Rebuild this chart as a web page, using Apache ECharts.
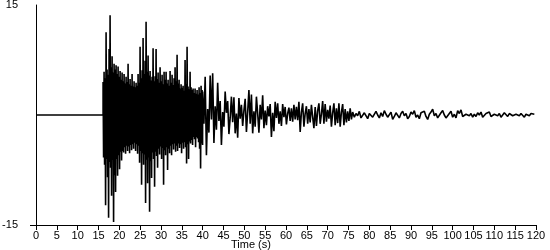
<!DOCTYPE html>
<html>
<head>
<meta charset="utf-8">
<script src="https://cdn.jsdelivr.net/npm/echarts@6/dist/echarts.min.js"></script>
<style>html,body{margin:0;padding:0;background:#fff}#c{width:550px;height:250px}</style>
</head>
<body>
<div id="c"></div>
<script>
// ---- data ----
const startTime = 0;
const onsetTime = 16.1;          // s, quiet until here
const endTime = 120;
const denseStep = 0.12;           // s between samples in the strong-motion part
const denseValues = [
 4.5,-5.8, 5.9,-6.8, 5.0,-12.3, 11.3,-6.0, 6.2,-8.5, 5.5,-14.0, 9.0,-6.4, 13.6,-7.2, 6.5,-11.0, 8.0,-6.1,
 5.8,-14.6, 7.0,-8.2, 6.2,-10.5, 6.8,-6.0, 5.6,-8.3, 6.6,-5.5, 5.2,-7.4, 6.0,-5.0, 4.8,-6.2, 5.8,-4.9,
 4.6,-5.1, 5.6,-4.4, 4.3,-5.3, 5.2,-4.2, 4.5,-4.9, 7.0,-4.3, 4.2,-5.2, 4.9,-4.1, 4.0,-4.8, 5.6,-4.0,
 3.9,-4.6, 4.6,-3.8, 3.8,-4.9, 4.4,-4.0, 4.0,-5.3, 5.6,-4.2, 4.4,-6.5, 9.3,-4.9, 5.0,-9.5, 6.1,-5.2,
 10.5,-6.8, 5.6,-5.4, 7.4,-12.0, 12.7,-6.1, 5.9,-9.3, 8.1,-5.8, 5.4,-13.2, 6.0,-6.3, 4.7,-8.6, 5.2,-5.1,
 9.1,-6.0, 4.6,-9.8, 5.3,-5.0, 9.0,-5.6, 4.9,-7.2, 5.8,-4.6, 4.4,-5.4, 6.5,-4.3, 4.6,-6.0, 5.5,-4.5,
 4.2,-9.5, 5.9,-4.8, 4.8,-5.5, 5.9,-4.4, 4.3,-7.5, 4.8,-4.6, 4.0,-5.2, 6.0,-4.2, 4.4,-5.5, 5.5,-4.0,
 4.1,-4.7, 5.0,-3.9, 6.5,-5.0, 4.6,-4.2, 8.2,-4.9, 4.3,-3.9, 4.8,-4.5, 3.6,-4.0, 4.2,-5.2, 3.7,-3.8,
 4.0,-4.6, 3.3,-3.7, 7.5,-4.4, 4.2,-6.6, 9.3,-4.0, 3.9,-6.0, 3.5,-3.6, 5.9,-3.9, 3.8,-3.4, 3.4,-4.1,
 3.6,-3.0, 3.0,-3.3, 3.6,-4.4, 2.9,-3.0, 3.4,-3.2, 2.8,-3.7, 3.8,-4.6, 3.0,-7.3, 4.0,-3.9, 3.4,-4.1
];
const midStart = 40.0;
const midStep = 0.3;
const midValues = [
 3.2,-1.2,5.2,-5.5,0.8,-2.4,5.4,-0.6,5.7,-3.8,
 1.2,-2.0,4.4,-0.8,1.9,-4.1,0.4,-1.6,3.2,0.3,
 1.9,-2.6,-0.4,2.5,-1.0,2.4,-2.5,0.2,-3.1,2.3,
 -0.5,1.4,-1.5,0.6,2.2,-2.3,0.4,3.4,-1.2,2.8,
 -2.5,0.5,-1.6,2.5,0.2,-2.4,1.4,-0.6,2.7,-1.8,
 0.6,-1.4,1.2,-0.2,1.5,-3.0,0.3,-2.2,1.8,-0.4,
 1.6,-1.2,0.5,-1.5,1.5,-0.3,1.1,-1.3,0.2,1.0,
 -0.8,0.9,-0.9,1.4,-0.6,1.1,-0.7,1.8,-2.3,0.4,
 1.6,-1.6,0.2,1.2,-1.2,0.8,-1.0,1.4,-0.3,-1.8,
 1.1,-1.5,0.6,1.6,-1.2,0.1,1.9,-1.2,1.5,-0.9,
 0.7,-0.5,1.3,-1.6,0.3,1.6,-1.4,0.9,-1.1,1.6,
 -1.6,0.4,1.5,-1.4,0.8,-1.0,0.5,-0.8,0.9,-0.6
];
const tailStart = 76.0;
const tailStep = 0.4;
const tailValues = [
 0.4,-0.3,0.2,-0.1,0.5,-0.4,-0.2,0.3,0.1,-0.5,0.2,0.4,
 -0.3,-0.1,0.5,0.0,-0.4,0.3,-0.2,0.6,0.1,-0.3,-0.1,0.4,
 -0.6,-0.2,0.3,0.1,-0.4,0.2,0.5,-0.1,0.2,-0.5,-0.2,0.4,
 0.1,0.6,-0.3,0.0,-0.5,0.3,0.2,0.5,-0.2,-0.6,0.1,0.4,
 0.8,-0.1,0.2,-0.4,-0.2,0.3,0.6,0.0,-0.4,-0.1,0.2,0.5,
 -0.3,0.1,-0.4,0.6,0.2,0.7,-0.2,-0.4,0.1,0.3,-0.1,0.2,
 -0.3,0.1,-0.2,0.3,0.0,0.4,-0.3,-0.1,0.2,0.1,0.4,-0.2,
 -0.4,0.1,0.3,-0.1,0.2,-0.3,0.0,0.3,0.1,-0.2,0.2,0.4,
 -0.1,-0.3,0.1,0.3,-0.1,0.2,0.0,-0.3,0.1,0.3,-0.1,0.2,
 0.4,0.1
];
const yLabel = 'cm/s/s';
const xLabel = 'Time (s)';

// ---- build series ----
const series = [[startTime, 0], [onsetTime, 0]];
denseValues.forEach((v, i) => series.push([+(onsetTime + i * denseStep).toFixed(3), v]));
midValues.forEach((v, i) => series.push([+(midStart + i * midStep).toFixed(3), v]));
tailValues.forEach((v, i) => series.push([+(tailStart + i * tailStep).toFixed(3), v]));

const font = 'Liberation Sans, Arial, sans-serif';
const chart = echarts.init(document.getElementById('c'), null, {renderer: 'canvas'});
chart.setOption({
  animation: false,
  backgroundColor: '#fff',
  title: {
    text: xLabel, left: 231, top: 239, padding: 0,
    textStyle: {fontSize: 11, fontWeight: 'normal', color: '#000', fontFamily: font}
  },
  grid: {left: 36, right: 14, top: 5, bottom: 25, containLabel: false, outerBoundsMode: 'none'},
  xAxis: {
    type: 'value', min: 0, max: endTime, interval: 5,
    axisLine: {onZero: false, lineStyle: {color: '#000', width: 1}},
    axisTick: {show: true, length: 5, inside: false, lineStyle: {color: '#000'}},
    axisLabel: {color: '#000', fontSize: 11, margin: 5, fontFamily: font, showMaxLabel: true, showMinLabel: true, hideOverlap: false},
    splitLine: {show: false}
  },
  yAxis: {
    type: 'value', min: -15, max: 15, interval: 30,
    name: yLabel, nameLocation: 'middle', nameGap: 20, nameRotate: 90,
    nameTextStyle: {color: '#000', fontSize: 11, fontFamily: font},
    axisLine: {show: true, onZero: false, lineStyle: {color: '#000', width: 1}},
    axisTick: {show: true, length: 6, customValues: [-15], lineStyle: {color: '#000'}},
    axisLabel: {color: '#000', fontSize: 11, margin: 18, fontFamily: font},
    splitLine: {show: false}
  },
  series: [{
    type: 'line', data: series, showSymbol: false, symbol: 'none',
    lineStyle: {color: '#000', width: 1.6}, silent: true, clip: true
  }]
});
</script>
</body>
</html>
